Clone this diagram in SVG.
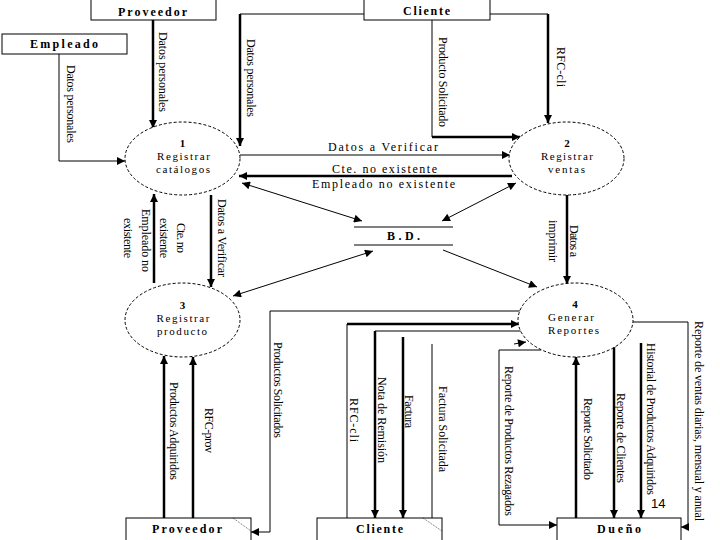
<svg xmlns="http://www.w3.org/2000/svg" width="720" height="540" viewBox="0 0 720 540">
<style>
text{font-family:"Liberation Serif","Times New Roman",serif;font-size:12px;fill:#000}
.ent{font-weight:bold;text-anchor:middle}
.num{font-weight:bold;text-anchor:middle;font-size:11px}
.mid{text-anchor:middle}
.pt{text-anchor:middle;font-size:11px}
.box{fill:#fff;stroke:#000;stroke-width:1}
.proc{fill:#fff;stroke:#000;stroke-width:1;stroke-dasharray:3,2}
.thin{fill:none;stroke:#000;stroke-width:1}
.thick{fill:none;stroke:#000;stroke-width:2.5}
.a{marker-end:url(#ah)}
.aa{marker-end:url(#ah);marker-start:url(#ah)}
.mk{fill:none;stroke:#000;stroke-width:0.6;stroke-dasharray:1,1}
</style>
<defs>
<marker id="ah" viewBox="0 0 10 10" refX="10" refY="5" markerWidth="9" markerHeight="8" markerUnits="userSpaceOnUse" orient="auto-start-reverse"><path d="M0,0 L10,5 L0,10 z" fill="#000"/></marker>
</defs>
<rect width="720" height="540" fill="#fff"/>

<g id="connectors">
<path class="thick a" d="M153,20 V128"/>
<path class="thin a" d="M59,54 V161 H125"/>
<path class="thin" d="M364,14 H240"/>
<path class="thick a" d="M240,14 V146"/>
<path class="thin" d="M432,20 V137"/>
<path class="thick a" d="M432,137 H520"/>
<path class="thin" d="M490,14 H548"/>
<path class="thick a" d="M548,14 V123"/>
<path class="thin a" d="M240,155 H510"/>
<path class="thick a" d="M512,176 H239"/>
<path class="thick a" d="M211,195 V287"/>
<path class="thick a" d="M154,283 V194"/>
<path class="thin aa" d="M242,183 L362,221"/>
<path class="thin aa" d="M516,183 L442,221"/>
<path class="thin aa" d="M233,296 L373,251"/>
<path class="thin a" d="M443,250 L537,287"/>
<path class="thick a" d="M567,195 V284"/>
<path class="thick a" d="M164,518 V356"/>
<path class="thick a" d="M193,518 V357"/>
<path class="thin a" d="M521,311 H270 V532 H251"/>
<path class="thin" d="M347,518 V324"/>
<path class="thick a" d="M347,324 H519"/>
<path class="thin" d="M522,331 H375"/>
<path class="thick a" d="M375,331 V518"/>
<path class="thick a" d="M403,337 V518"/>
<path class="thin" d="M432,344 V518"/>
<path class="thin a" d="M541,350 H499 V525 H557"/>
<path class="thin a" d="M514,344 L526,342"/>
<path class="thick a" d="M576,518 V357"/>
<path class="thick a" d="M614,345 V518"/>
<path class="thick a" d="M641,343 V518"/>
<path class="thin a" d="M633,322 H688 V527 H681"/>
</g>

<g id="connector-labels">
<text transform="translate(158.5,32) rotate(90)" textLength="80">Datos personales</text>
<text transform="translate(66.5,65) rotate(90)" textLength="78">Datos personales</text>
<text transform="translate(246.5,39) rotate(90)" textLength="78">Datos personales</text>
<text transform="translate(438.5,37) rotate(90)" textLength="90">Producto Solicitado</text>
<text transform="translate(556.5,47) rotate(90)" textLength="40">RFC-cli</text>
<text x="383" y="151" class="mid" textLength="110">Datos a Verificar</text>
<text x="384.5" y="173" class="mid" textLength="105">Cte. no existente</text>
<text x="383.5" y="188" class="mid" textLength="143">Empleado no existente</text>
<text transform="translate(217.5,199) rotate(90)" textLength="78">Datos a Verificar</text>
<text transform="translate(176.5,223) rotate(90)" textLength="30">Cte. no</text>
<text transform="translate(159.5,218) rotate(90)" textLength="40">existente</text>
<text transform="translate(141.5,209) rotate(90)" textLength="63">Empleado no</text>
<text transform="translate(123.5,218) rotate(90)" textLength="40">existente</text>
<text transform="translate(569.5,225) rotate(90)" textLength="32">Datos a</text>
<text transform="translate(548.5,220) rotate(90)" textLength="42">imprimir</text>
<text transform="translate(169.5,382) rotate(90)" textLength="98">Productos Adquiridos</text>
<text transform="translate(204.5,408) rotate(90)" textLength="45">RFC-prov</text>
<text transform="translate(273.5,342) rotate(90)" textLength="96">Productos Solicitados</text>
<text transform="translate(350,398) rotate(90)" textLength="44">RFC-cli</text>
<text transform="translate(378,377) rotate(90)" textLength="86">Nota de Remisión</text>
<text transform="translate(405,395) rotate(90)" textLength="33">Factura</text>
<text transform="translate(438.5,386) rotate(90)" textLength="86">Factura Solicitada</text>
<text transform="translate(504.5,366) rotate(90)" textLength="150">Reporte de Productos Rezagados</text>
<text transform="translate(583.5,398) rotate(90)" textLength="82">Reporte Solicitado</text>
<text transform="translate(617,393) rotate(90)" textLength="90">Reporte de Clientes</text>
<text transform="translate(646.5,343) rotate(90)" textLength="152">Historial de Productos Adquiridos</text>
<text transform="translate(694.5,321) rotate(90)" textLength="200">Reporte de ventas diarias, mensual y anual</text>
<text x="651" y="508" style="font-family:'Liberation Sans',Arial,sans-serif;font-size:13px">14</text>
</g>

<g id="proveedor-top">
<rect class="box" x="91" y="-5" width="125" height="25"/>
<text class="ent" x="152.5" y="16" textLength="69">Proveedor</text>
</g>
<g id="empleado">
<rect class="box" x="2" y="34" width="125" height="20"/>
<text class="ent" x="64" y="48" textLength="68">Empleado</text>
</g>
<g id="cliente-top">
<rect class="box" x="364" y="-5" width="126" height="25"/>
<text class="ent" x="426.5" y="15" textLength="47">Cliente</text>
</g>

<g id="p1">
<ellipse class="proc" cx="182.5" cy="158.5" rx="57.5" ry="36.5"/>
<text class="num" x="182.5" y="147">1</text>
<text class="pt" x="183.5" y="160" textLength="53">Registrar</text>
<text class="pt" x="183" y="173" textLength="54">catálogos</text>
</g>
<g id="p2">
<ellipse class="proc" cx="566.5" cy="158.5" rx="57.5" ry="36.5"/>
<text class="num" x="567" y="147">2</text>
<text class="pt" x="567" y="160" textLength="52">Registrar</text>
<text class="pt" x="566.5" y="173" textLength="37">ventas</text>
</g>
<g id="p3">
<ellipse class="proc" cx="182.5" cy="320" rx="57.5" ry="37"/>
<text class="num" x="182.5" y="309">3</text>
<text class="pt" x="183" y="322" textLength="53">Registrar</text>
<text class="pt" x="182" y="335" textLength="50">producto</text>
</g>
<g id="p4">
<ellipse class="proc" cx="575.5" cy="320" rx="57.5" ry="37"/>
<text class="num" x="575" y="308">4</text>
<text class="pt" x="571" y="321" textLength="46">Generar</text>
<text class="pt" x="573.5" y="334" textLength="51">Reportes</text>
</g>

<g id="bd">
<line class="thin" x1="354" y1="227" x2="453" y2="227"/>
<line class="thin" x1="354" y1="245" x2="453" y2="245"/>
<text class="ent" x="403.5" y="240" textLength="33">B.D.</text>
</g>

<g id="proveedor-bottom">
<rect class="box" x="126" y="518" width="125" height="30"/>
<line class="mk" x1="233" y1="518" x2="251" y2="531"/>
<text class="ent" x="187" y="533" textLength="70">Proveedor</text>
</g>
<g id="cliente-bottom">
<rect class="box" x="317" y="518" width="125" height="30"/>
<line class="mk" x1="423" y1="518" x2="442" y2="531"/>
<text class="ent" x="379.5" y="533" textLength="47">Cliente</text>
</g>
<g id="dueno">
<rect class="box" x="557" y="518" width="124" height="30"/>
<text class="ent" x="619" y="533" textLength="44">Dueño</text>
</g>
</svg>
